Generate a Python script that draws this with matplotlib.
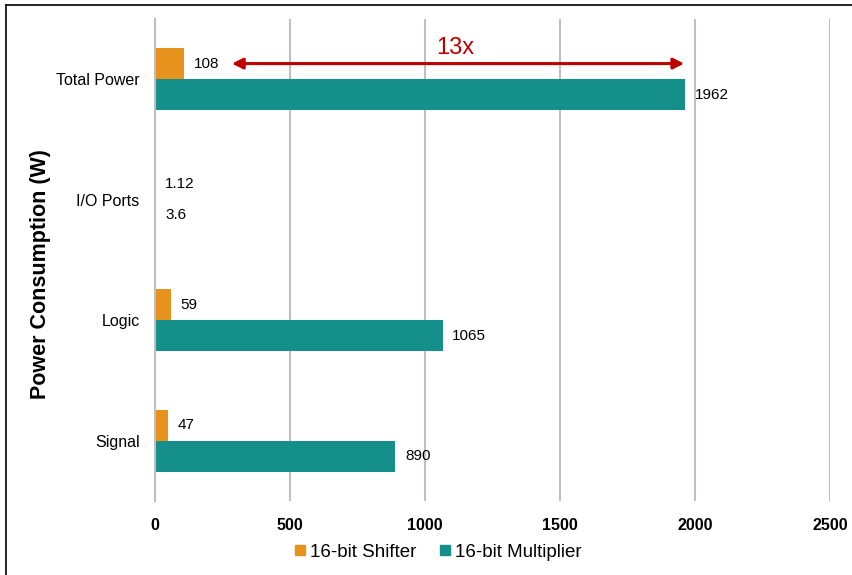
import numpy as np
import matplotlib
matplotlib.use('Agg')
import matplotlib.pyplot as plt
from matplotlib.lines import Line2D

plt.rcParams['font.family'] = ['Liberation Sans', 'DejaVu Sans']

# power per block, bottom to top
categories = ['Signal', 'Logic', 'I/O Ports', 'Total Power']
shifter = [47, 59, 1.12, 108]
multiplier = [890, 1065, 3.6, 1962]
shifter_labels = ['47', '59', '1.12', '108']
multiplier_labels = ['890', '1065', '3.6', '1962']

c_shift = '#E8921E'
c_mult = '#148F8A'
c_red = '#C00000'

fig = plt.figure(figsize=(8.52, 5.75), dpi=100)
ax = fig.add_axes([155 / 852, 1 - 501 / 575, 675 / 852, 482 / 575])

y = np.arange(len(categories))
h = 0.257
ax.barh(y + h / 2, shifter, height=h, color=c_shift, label='16-bit Shifter')
ax.barh(y - h / 2, multiplier, height=h, color=c_mult, label='16-bit Multiplier')

for i in range(len(categories)):
    ax.annotate(shifter_labels[i], (shifter[i], y[i] + h / 2), xytext=(7, 0),
                textcoords='offset points', va='center', ha='left', fontsize=11)
    ax.annotate(multiplier_labels[i], (multiplier[i], y[i] - h / 2), xytext=(7, 0),
                textcoords='offset points', va='center', ha='left', fontsize=11)

ax.set_xlim(0, 2500)
ax.set_ylim(-0.5, 3.5)
ax.set_xticks(np.arange(0, 2501, 500))
ax.set_yticks(y)
ax.set_yticklabels(categories, fontsize=11.5)
for lbl in ax.get_xticklabels():
    lbl.set_fontweight('bold')
    lbl.set_fontsize(11.5)
ax.tick_params(axis='both', length=0)
ax.tick_params(axis='x', pad=12)
ax.tick_params(axis='y', pad=11)

ax.grid(axis='x', color='#BFBFBF', linewidth=1.5)
ax.set_axisbelow(True)
for s in ['top', 'right', 'bottom']:
    ax.spines[s].set_visible(False)
ax.spines['left'].set_color('#BFBFBF')
ax.spines['left'].set_linewidth(1.5)

ax.set_ylabel('Power Consumption (W)', fontsize=15.5, fontweight='bold')
ax.yaxis.set_label_coords(-104 / 675, (501 - 274) / 482)

# 13x gap between the two totals
ax.annotate('', xy=(285, 3.13), xytext=(1960, 3.13),
            arrowprops=dict(arrowstyle='<|-|>', color=c_red, lw=2.2,
                            mutation_scale=16, shrinkA=0, shrinkB=0))
ax.text(1111, 3.26, '13x', color=c_red, fontsize=17, ha='center', va='center')

handles = [Line2D([], [], marker='s', linestyle='', color=c_shift, markersize=7),
           Line2D([], [], marker='s', linestyle='', color=c_mult, markersize=7)]
fig.legend(handles, ['16-bit Shifter', '16-bit Multiplier'], loc='center',
           bbox_to_anchor=(436 / 852, 1 - 552 / 575), ncol=2, frameon=False,
           fontsize=13.5, handletextpad=0.05, columnspacing=1.0, handlelength=1)

# frame edges on left and top
fig.add_artist(Line2D([6 / 852, 6 / 852], [0, 1 - 5 / 575], color='black', lw=1.2))
fig.add_artist(Line2D([6 / 852, 1], [1 - 5 / 575, 1 - 5 / 575], color='black', lw=1.2))

fig.savefig('out.png', dpi=100)
